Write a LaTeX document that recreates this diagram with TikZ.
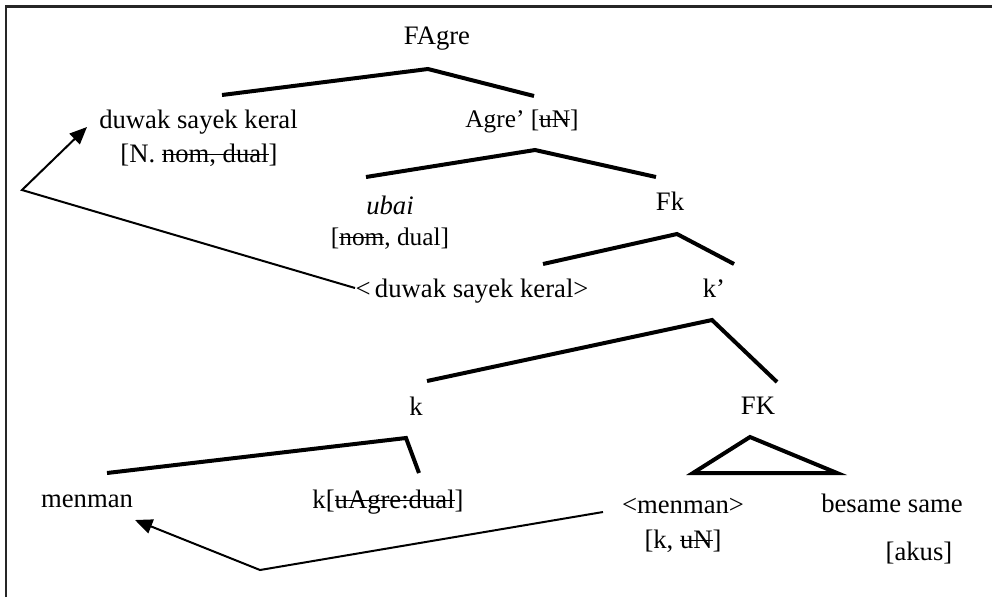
\documentclass[tikz,border=0pt]{standalone}
\usepackage{fontspec}
\setmainfont{Liberation Serif}
\usetikzlibrary{arrows.meta}
\newcommand\strk[1]{\sbox0{#1}\rlap{\rule[0.26em]{\wd0}{0.05em}}\usebox0}
\tikzset{
  lbl/.style={anchor=base, inner sep=0pt, font=\fontsize{20}{24}\selectfont},
  lbls/.style={lbl, font=\fontsize{19}{22}\selectfont},
  branch/.style={line width=3pt, line cap=butt, line join=miter},
  move/.style={line width=1.5pt, -{Triangle[length=13pt,width=11pt]}},
  frame/.style={line width=1.6pt, draw=black!85}
}
\begin{document}
\begin{tikzpicture}[x=0.75pt,y=-0.75pt]
\useasboundingbox (0,0) rectangle (992,597);
\draw[frame] (6,597) -- (6,6.5) -- (992,6.5);

% labels
\node[lbl] (fagre) at (437,44) {FAgre};
\node[lbl] (dsk) at (198.5,128) {duwak sayek keral};
\node[lbl] (dskf) at (199,162) {[N. \strk{nom, dual}]};
\node[lbls] (agrep) at (522,127) {Agre’ [\strk{uN}]};
\node[lbl] (ubai) at (390,214) {\itshape ubai};
\node[lbls] (ubaif) at (390,245) {[\strk{nom}, dual]};
\node[lbl] (fk) at (670,210) {Fk};
\node[lbl] (dskt) at (472,297) {<\,duwak sayek keral>};
\node[lbl] (kp) at (714,297) {k’};
\node[lbl] (k) at (416,415) {k};
\node[lbl] (FK) at (758,414) {FK};
\node[lbl] (menman) at (87,507) {menman};
\node[lbl] (kagr) at (388,508) {k[\strk{uAgre:dual}]};
\node[lbl] (menmant) at (683,513) {<menman>};
\node[lbl] (menmanf) at (683,548) {[k, \strk{uN}]};
\node[lbl] (besame) at (892,512) {besame same};
\node[lbl] (akus) at (919,560) {[akus]};

% branch points
\coordinate (a1) at (428,69);   \coordinate (a1l) at (222,95);  \coordinate (a1r) at (534,96);
\coordinate (a2) at (535,150);  \coordinate (a2l) at (366,177); \coordinate (a2r) at (656,177);
\coordinate (a3) at (677,234);  \coordinate (a3l) at (543,264); \coordinate (a3r) at (734,264);
\coordinate (a4) at (712,320);  \coordinate (a4l) at (427,381); \coordinate (a4r) at (777,382);
\coordinate (a5) at (406,438);  \coordinate (a5l) at (107,473); \coordinate (a5r) at (419,473);
\coordinate (t0) at (750,437);  \coordinate (tl) at (693,473);  \coordinate (tr) at (837,473);

\draw[branch] (a1l) -- (a1) -- (a1r);
\draw[branch] (a2l) -- (a2) -- (a2r);
\draw[branch] (a3l) -- (a3) -- (a3r);
\draw[branch] (a4l) -- (a4) -- (a4r);
\draw[branch] (a5l) -- (a5) -- (a5r);
\draw[branch] (t0) -- (tl) -- (tr) -- cycle;

% movement arrows
\coordinate (m1s) at (355,288); \coordinate (m1c) at (22,190); \coordinate (m1e) at (87,127);
\draw[move] (m1s) -- (m1c) -- (m1e);
\coordinate (m2s) at (603,512); \coordinate (m2c) at (260,570); \coordinate (m2e) at (135,520);
\draw[move] (m2s) -- (m2c) -- (m2e);
\end{tikzpicture}
\end{document}
